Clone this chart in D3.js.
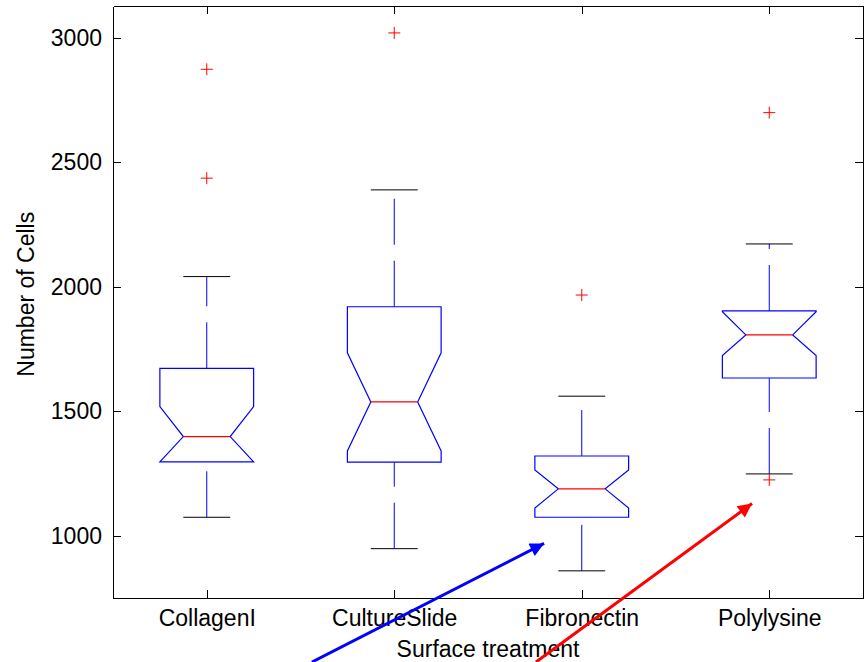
<!DOCTYPE html>
<html>
<head>
<meta charset="utf-8">
<script src="https://cdn.jsdelivr.net/npm/d3@7"></script>
<style>
  body { margin: 0; background: #fff; }
  svg text { font-family: "Liberation Sans", Arial, Helvetica, sans-serif; font-size: 23px; fill: #000; }
</style>
</head>
<body>
<svg id="chart" width="868" height="662"></svg>
<script>
// box statistics (number of cells)
const categories = ["CollagenI", "CultureSlide", "Fibronectin", "Polylysine"];
const q1 = [1297, 1296, 1075, 1634];
const q3 = [1673, 1920, 1321, 1903];
const medians = [1399, 1538, 1189, 1807];
const notchLo = [1279, 1341, 1112, 1724];
const notchHi = [1519, 1735, 1265, 1900];
const whiskerLo = [1075, 949, 860, 1249];
const whiskerHi = [2041, 2389, 1561, 2172];
const outliers = [[2873, 2436], [3019], [1967], [2699, 1225]];
const yTicks = [1000, 1500, 2000, 2500, 3000];

// annotation arrows, in data units (x = category index, 1-based)
const arrows = [
  { color: "#0000ff", from: [1.561, 494], to: [2.799, 970] },
  { color: "#ff0000", from: [2.756, 494], to: [3.908, 1130] }
];

const svg = d3.select("#chart");
const margin = { top: 6, right: 5, bottom: 64, left: 113 };
const width = 868 - margin.left - margin.right,
      height = 662 - margin.top - margin.bottom;

const x = d3.scaleLinear().domain([0.5, 4.5]).range([margin.left, margin.left + width]);
const y = d3.scaleLinear().domain([751, 3127]).range([margin.top + height, margin.top]);

const boxHalf = 0.25, notchHalf = 0.125, capHalf = 0.125;

const data = categories.map((c, i) => ({
  name: c, pos: i + 1, q1: q1[i], q3: q3[i], med: medians[i],
  nlo: Math.max(notchLo[i], q1[i]), nhi: Math.min(notchHi[i], q3[i]),
  wlo: whiskerLo[i], whi: whiskerHi[i], out: outliers[i]
}));

// axes with inward ticks
const tickFmt = i => categories[i - 1];
svg.append("g")
  .attr("transform", `translate(0,${margin.top + height})`)
  .call(d3.axisBottom(x).tickValues([1, 2, 3, 4]).tickFormat(tickFmt).tickSizeInner(-8).tickSizeOuter(0).tickPadding(12));
svg.append("g")
  .attr("transform", `translate(0,${margin.top})`)
  .call(d3.axisTop(x).tickValues([1, 2, 3, 4]).tickFormat("").tickSizeInner(-8).tickSizeOuter(0));
svg.append("g")
  .attr("transform", `translate(${margin.left},0)`)
  .call(d3.axisLeft(y).tickValues(yTicks).tickFormat(d3.format("d")).tickSizeInner(-8).tickSizeOuter(0).tickPadding(11));
svg.append("g")
  .attr("transform", `translate(${margin.left + width},0)`)
  .call(d3.axisRight(y).tickValues(yTicks).tickFormat("").tickSizeInner(-8).tickSizeOuter(0));

svg.selectAll(".domain, .tick line").attr("stroke", "#000").attr("shape-rendering", "crispEdges");
svg.selectAll(".tick text").style("font-size", "23px").style("font-family", null);

// boxes
const gs = svg.selectAll("g.box")
  .data(data)
  .enter()
  .append("g")
  .classed("box", true);

gs.append("path")
  .attr("fill", "none")
  .attr("stroke", "#0000ff")
  .attr("stroke-width", 1.2)
  .attr("d", d => {
    const l = x(d.pos - boxHalf), r = x(d.pos + boxHalf),
          il = x(d.pos - notchHalf), ir = x(d.pos + notchHalf);
    return `M${l},${y(d.q3)}L${l},${y(d.nhi)}L${il},${y(d.med)}L${l},${y(d.nlo)}L${l},${y(d.q1)}` +
           `L${r},${y(d.q1)}L${r},${y(d.nlo)}L${ir},${y(d.med)}L${r},${y(d.nhi)}L${r},${y(d.q3)}Z`;
  });

gs.append("line")
  .attr("stroke", "#ff0000")
  .attr("stroke-width", 1.2)
  .attr("x1", d => x(d.pos - notchHalf))
  .attr("x2", d => x(d.pos + notchHalf))
  .attr("y1", d => y(d.med))
  .attr("y2", d => y(d.med));

// dashed whiskers, drawn from the lower value upward
gs.append("line")
  .attr("stroke", "#0000ff")
  .attr("stroke-dasharray", "46,16")
  .attr("x1", d => x(d.pos)).attr("x2", d => x(d.pos))
  .attr("y1", d => y(d.q3)).attr("y2", d => y(d.whi));
gs.append("line")
  .attr("stroke", "#0000ff")
  .attr("stroke-dasharray", "46,16")
  .attr("x1", d => x(d.pos)).attr("x2", d => x(d.pos))
  .attr("y1", d => y(d.wlo)).attr("y2", d => y(d.q1));

// whisker caps
gs.selectAll("line.cap")
  .data(d => [d.wlo, d.whi].map(v => ({ pos: d.pos, v })))
  .enter()
  .append("line")
  .classed("cap", true)
  .attr("stroke", "#000")
  .attr("x1", d => x(d.pos - capHalf))
  .attr("x2", d => x(d.pos + capHalf))
  .attr("y1", d => y(d.v))
  .attr("y2", d => y(d.v));

// outliers as red plus signs
gs.selectAll("path.out")
  .data(d => d.out.map(v => ({ pos: d.pos, v })))
  .enter()
  .append("path")
  .classed("out", true)
  .attr("stroke", "#ff0000")
  .attr("d", d => {
    const cx = x(d.pos), cy = y(d.v);
    return `M${cx - 6},${cy}H${cx + 6}M${cx},${cy - 6}V${cy + 6}`;
  });

// axis titles
svg.append("text")
  .attr("x", x(2.5))
  .attr("y", 657)
  .attr("text-anchor", "middle")
  .text("Surface treatment");
svg.append("text")
  .attr("transform", `translate(34,${y(1970)}) rotate(-90)`)
  .attr("text-anchor", "middle")
  .text("Number of Cells");

// arrows
const defs = svg.append("defs");
arrows.forEach((a, i) => {
  defs.append("marker")
    .attr("id", "head" + i)
    .attr("viewBox", "0 0 10 10")
    .attr("refX", 10).attr("refY", 5)
    .attr("markerUnits", "userSpaceOnUse")
    .attr("markerWidth", 19).attr("markerHeight", 14)
    .attr("orient", "auto")
    .append("path")
    .attr("d", "M0,0L10,5L0,10Z")
    .attr("fill", a.color);
});

svg.selectAll("line.arrow")
  .data(arrows)
  .enter()
  .append("line")
  .classed("arrow", true)
  .attr("stroke", d => d.color)
  .attr("stroke-width", 3)
  .attr("x1", d => x(d.from[0])).attr("y1", d => y(d.from[1]))
  .attr("x2", d => x(d.to[0])).attr("y2", d => y(d.to[1]))
  .attr("marker-end", (d, i) => `url(#head${i})`);
</script>
</body>
</html>
